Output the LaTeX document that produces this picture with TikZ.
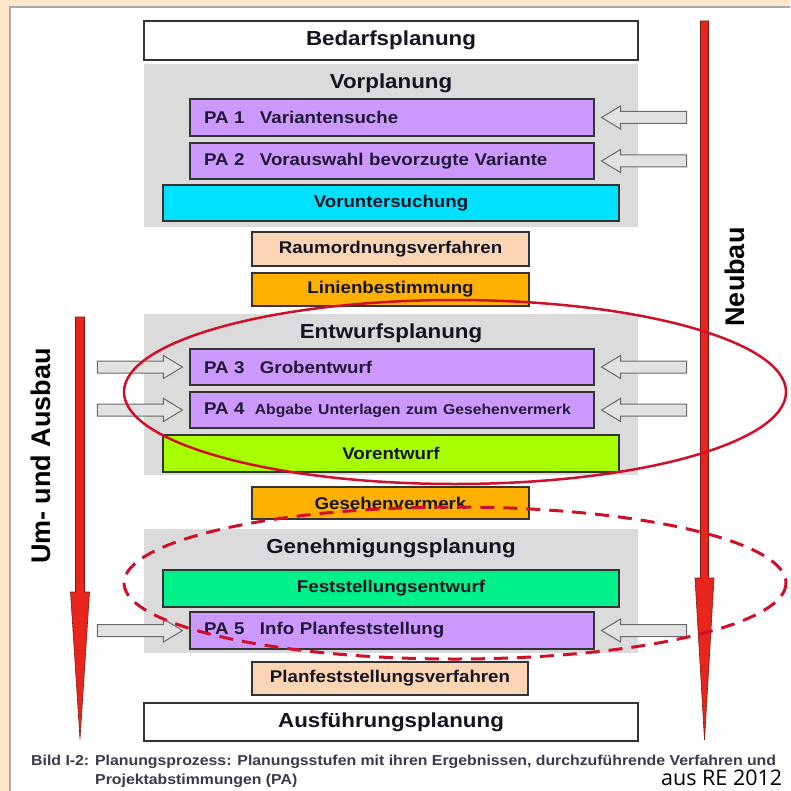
\documentclass[tikz,border=0pt]{standalone}
\usepackage{fontspec}
\setmainfont{Liberation Sans}[FakeStretch=1.1]
\newfontfamily\rotfont{Liberation Sans}
\newfontfamily\ausfont{Open Sans}
\usetikzlibrary{calc}
\definecolor{beige}{HTML}{FCE8C8}
\definecolor{frameline}{HTML}{AAAAAA}
\definecolor{cgray}{HTML}{DBDBDB}
\definecolor{cpur}{HTML}{CC99FF}
\definecolor{ccyan}{HTML}{00E0FF}
\definecolor{cpeach}{HTML}{FCD5B4}
\definecolor{corange}{HTML}{FFB000}
\definecolor{clime}{HTML}{A8FF00}
\definecolor{cgreen}{HTML}{00F08C}
\definecolor{boxline}{HTML}{333333}
\definecolor{txt}{HTML}{141420}
\definecolor{patxt}{HTML}{221636}
\definecolor{captxt}{HTML}{3A3A4A}
\definecolor{garrow}{HTML}{E2E2E2}
\definecolor{garrowline}{HTML}{6A6A6A}
\definecolor{redfill}{HTML}{E8251C}
\definecolor{redline}{HTML}{7A1A10}
\definecolor{ringc}{HTML}{D0102A}
\tikzset{
  stage/.style={draw=boxline, line width=1.1pt, inner sep=0pt, text=txt,
    font=\fontsize{20.3}{24}\selectfont\bfseries},
  substage/.style={draw=boxline, line width=1.1pt, inner sep=0pt, text=txt,
    font=\fontsize{17}{20}\selectfont\bfseries},
  pabox/.style={draw=boxline, line width=1.1pt, fill=cpur, inner xsep=14pt,
    inner ysep=0pt, text width=376pt, align=left, text=patxt,
    font=\fontsize{17}{20}\selectfont\bfseries},
  groupbox/.style={fill=cgray, inner sep=0pt, minimum width=494pt},
  heading/.style={inner sep=0pt, text=txt, font=\fontsize{20.3}{24}\selectfont\bfseries},
  hollowarrow/.style={fill=garrow, draw=garrowline, line width=1pt},
  redarrow/.style={fill=redfill, draw=redline, line width=0.6pt},
  ring/.style={draw=ringc, line width=2.5pt},
  rottext/.style={rotate=90, inner sep=0pt, text=black,
    font=\rotfont\fontsize{27}{30}\selectfont\bfseries},
  leftarr/.pic={\draw[hollowarrow] (0,0) -- (19,-11.5) -- (19,-6) -- (85,-6)
    -- (85,6) -- (19,6) -- (19,11.5) -- cycle;},
  rightarr/.pic={\draw[hollowarrow] (0,0) -- (-19,-11.5) -- (-19,-6) -- (-85,-6)
    -- (-85,6) -- (-19,6) -- (-19,11.5) -- cycle;},
}
\begin{document}
\begin{tikzpicture}[x=1pt,y=-1pt]
\clip (0,0) rectangle (790,791);
\useasboundingbox (0,0) rectangle (790,791);
\fill[beige] (0,0) rectangle (790,791);
\draw[frameline, fill=white, line width=1.2pt] (10,7) rectangle (800,800);

% group backgrounds
\node[groupbox, minimum height=163pt] (vorg) at (391,145.5) {};
\node[groupbox, minimum height=161pt] (entg) at (391,394.5) {};
\node[groupbox, minimum height=124pt] (geng) at (391,591) {};

\node[heading] (vorh) at (391,83) {Vorplanung};
\node[heading] (enth) at (391,333) {Entwurfsplanung};
\node[heading] (genh) at (391,548) {Genehmigungsplanung};

% stages
\node[stage, fill=white, minimum width=494pt, minimum height=39pt] (bed) at (391,40.5) {Bedarfsplanung};
\node[pabox, minimum height=37pt] (pa1) at (392,117.5) {PA 1\hspace{0.9em}Variantensuche};
\node[pabox, minimum height=36pt] (pa2) at (392,161) {PA 2\hspace{0.9em}Vorauswahl bevorzugte Variante};
\node[substage, fill=ccyan, minimum width=456pt, minimum height=36pt] (vu) at (391,203) {Voruntersuchung};
\node[substage, fill=cpeach, minimum width=277pt, minimum height=34pt] (raum) at (390.5,249) {Raumordnungsverfahren};
\node[substage, fill=corange, minimum width=277pt, minimum height=33pt] (lin) at (390.5,289.5) {Linienbestimmung};
\node[pabox, minimum height=36pt] (pa3) at (392,367) {PA 3\hspace{0.9em}Grobentwurf};
\node[pabox, minimum height=36pt] (pa4) at (392,410) {PA 4\hspace{0.6em}{\fontsize{14.3}{17}\selectfont Abgabe Unterlagen zum Gesehenvermerk}};
\node[substage, fill=clime, minimum width=456pt, minimum height=37pt] (vent) at (391,453.5) {Vorentwurf};
\node[substage, fill=corange, minimum width=277pt, minimum height=32pt] (ges) at (390.5,503) {Gesehenvermerk};
\node[substage, fill=cgreen, minimum width=456pt, minimum height=37pt] (fest) at (391,588.5) {Feststellungsentwurf};
\node[pabox, minimum height=37pt] (pa5) at (392,630.5) {PA 5\hspace{0.9em}Info Planfeststellung};
\node[substage, fill=cpeach, minimum width=276pt, minimum height=33pt] (plan) at (390,678.5) {Planfeststellungsverfahren};
\node[stage, fill=white, minimum width=494pt, minimum height=38pt] (aus) at (391,722) {Ausführungsplanung};

% hollow arrows
\pic at ($(pa1.east)+(7,0)$) {leftarr};
\pic at ($(pa2.east)+(7,0)$) {leftarr};
\pic at ($(pa3.east)+(7,0)$) {leftarr};
\pic at ($(pa4.east)+(7,0)$) {leftarr};
\pic at ($(pa5.east)+(7,0)$) {leftarr};
\pic at ($(pa3.west)+(-7,0)$) {rightarr};
\pic at ($(pa4.west)+(-7,0)$) {rightarr};
\pic at ($(pa5.west)+(-7,0)$) {rightarr};

% red arrows
\draw[redarrow] (700.5,21) -- (708.5,21) -- (708.5,578) -- (714,578) -- (704.5,740)
  -- (695,578) -- (700.5,578) -- cycle;
\draw[redarrow] (75.5,317) -- (84.5,317) -- (84.5,592) -- (89.5,592) -- (80,739)
  -- (70.5,592) -- (75.5,592) -- cycle;
\node[rottext] (neu) at (735,277) {Neubau};
\node[rottext] (umb) at (41,456) {Um- und Ausbau};

% ellipses
\draw[ring] (455,392) ellipse [x radius=331, y radius=92];
\draw[ring, line width=3pt, dash pattern=on 14pt off 9pt] (455,583) ellipse [x radius=331, y radius=76];

% caption
\node[anchor=base west, inner sep=0pt, text=captxt, font=\fontsize{14.4}{17}\selectfont\bfseries] (cap1) at (31,765)
  {Bild I-2: Planungsprozess: Planungsstufen mit ihren Ergebnissen, durchzuführende Verfahren und};
\node[anchor=base west, inner sep=0pt, text=captxt, font=\fontsize{14.4}{17}\selectfont\bfseries] (cap2) at (95,784)
  {Projektabstimmungen (PA)};
\node[anchor=base west, inner sep=0pt, text=black, font=\ausfont\fontsize{21.5}{24}\selectfont] (src) at (661,785.5) {aus RE 2012};
\end{tikzpicture}
\end{document}
